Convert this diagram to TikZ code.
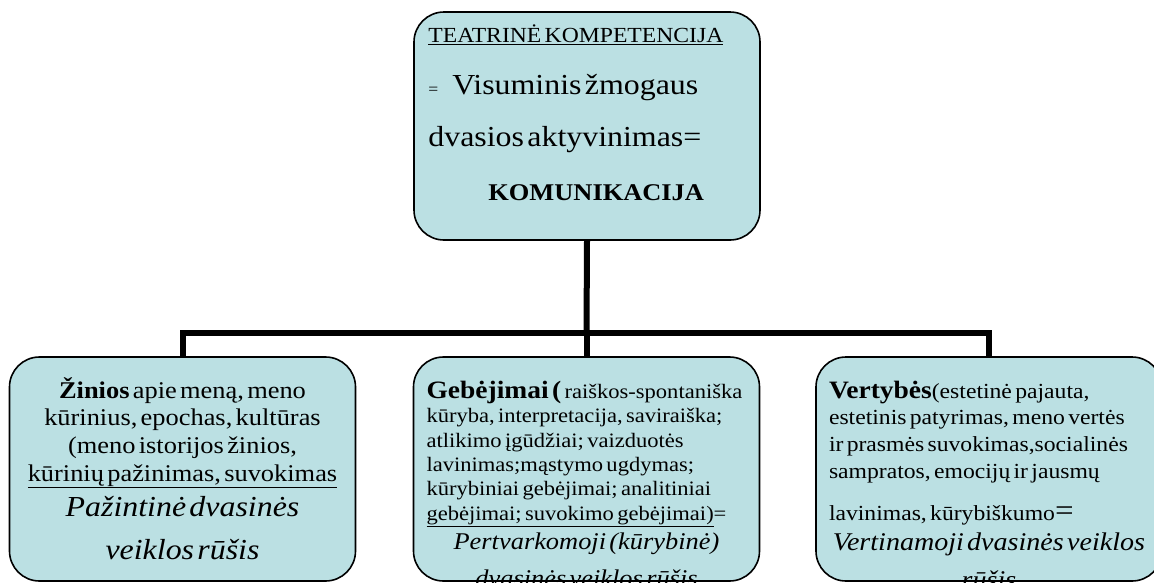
\documentclass[tikz,border=0pt]{standalone}
\usepackage{fontspec}
\setmainfont{Liberation Serif}[FakeStretch=1.1,WordSpace=1.4]
\definecolor{paleteal}{RGB}{187,224,227}

\begin{document}
\begin{tikzpicture}[x=1pt,y=-1pt,
    block/.style ={rectangle, rounded corners=30pt, draw, line width=1.6pt, fill=paleteal,
      minimum width=346pt, minimum height=224pt, inner sep=0pt},
    blocktext/.style ={inner sep=0pt, anchor=base, text width=320pt},
    branch/.style ={line width=6pt}]
   \useasboundingbox (0,0) rectangle (1154,582);
   \clip (0,0) rectangle (1154,582);
   \node[block, minimum height=228pt] (top) at (587,126) {};
   \node[block] (zinios) at (182.5,469) {};
   \node[block] (gebejimai) at (586.5,469) {};
   \node[block] (vertybes) at (989,469) {};
   \coordinate (fork) at (586.5,333);
   \draw[branch] (top.south) to (fork);
   \draw[branch] (fork) -| (zinios.north);
   \draw[branch] (fork) to (gebejimai.north);
   \draw[branch] (fork) -| (vertybes.north);
   \node[blocktext, anchor=base west, text width=330pt] (toptext) at ([xshift=15pt,yshift=-31pt]top.north west)
     {\raggedright\fontsize{21.5}{26}\selectfont\underline{TEATRINĖ KOMPETENCIJA}\par
      \fontsize{29}{52}\selectfont{\fontsize{16}{52}\selectfont=}\hspace{14pt}Visuminis žmogaus\\dvasios aktyvinimas=\par
      \fontsize{24}{54}\bfseries\selectfont\hspace*{60pt}KOMUNIKACIJA\par};
   \node[blocktext, text width=340pt] (zinitext) at ([yshift=-42pt]zinios.north)
     {\centering\fontsize{24}{27.6}\selectfont\textbf{Žinios} apie meną, meno\\kūrinius, epochas, kultūras\\(meno istorijos žinios,\\\underline{kūrinių pažinimas, suvokimas}\par
      \fontsize{29}{35}\itshape\selectfont Pažintinė dvasinės\\[8pt]veiklos rūšis\par};
   \node[blocktext] (gebetext) at ([yshift=-42pt]gebejimai.north)
     {\raggedright\rightskip=-40pt plus 1fil\fontsize{20.5}{24.4}\selectfont{\bfseries\fontsize{25}{24.4}\selectfont Gebėjimai (} raiškos-spontaniška\\kūryba, interpretacija, saviraiška;\\atlikimo įgūdžiai; vaizduotės\\lavinimas;mąstymo ugdymas;\\kūrybiniai gebėjimai; analitiniai\\\underline{gebėjimai; suvokimo gebėjimai)}=\par
      \centering\fontsize{24}{29}\itshape\selectfont Pertvarkomoji (kūrybinė)\\[8pt]dvasinės veiklos rūšis\par};
   \node[blocktext] (vertext) at ([yshift=-42pt]vertybes.north)
     {\raggedright\rightskip=-40pt plus 1fil\fontsize{21.5}{26.7}\selectfont{\bfseries\fontsize{25}{26.7}\selectfont Vertybės}(estetinė pajauta,\\estetinis patyrimas, meno vertės\\ir prasmės suvokimas,socialinės\\sampratos, emocijų ir jausmų\\[15pt]lavinimas, kūrybiškumo{\fontsize{30}{26.7}\selectfont=}\par
      \centering\fontsize{25.5}{30}\itshape\selectfont Vertinamoji dvasinės veiklos\\[8pt]rūšis\par};
\end{tikzpicture}
\end{document}
